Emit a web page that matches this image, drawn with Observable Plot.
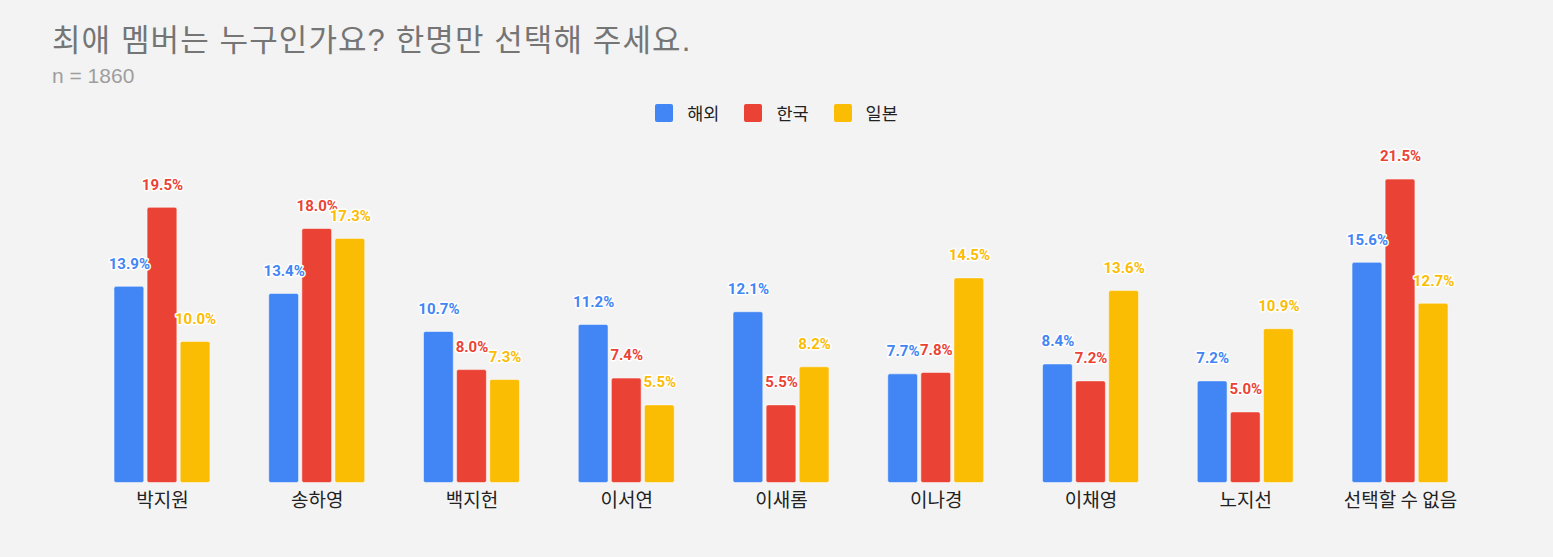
<!DOCTYPE html>
<html>
<head>
<meta charset="utf-8">
<script src="https://cdn.jsdelivr.net/npm/d3@7"></script>
<script src="https://cdn.jsdelivr.net/npm/@observablehq/plot@0.6"></script>
<style>
  html, body { margin: 0; padding: 0; background: #f3f3f3; width: 1553px; height: 557px; overflow: hidden; }
  body { font-family: Roboto, "Noto Sans CJK KR", sans-serif; position: relative; }
  #title { position: absolute; left: 52px; top: 25px; font-size: 31px; letter-spacing: 1.1px; color: #757575; font-family: "Liberation Sans", "Noto Sans CJK KR", sans-serif; line-height: 1; white-space: nowrap; }
  #subtitle { position: absolute; left: 52px; top: 65px; font-size: 21px; color: #9e9e9e; line-height: 1; font-family: "Liberation Sans", sans-serif; }
  #legend { position: absolute; left: 0; width: 1553px; top: 100px; display: flex; justify-content: center; font-size: 17.5px; color: #222; font-family: "Noto Sans CJK KR", sans-serif; }
  .item { display: flex; align-items: center; margin: 0 12.5px; }
  .sw { width: 18px; height: 18px; border-radius: 2px; margin-right: 14px; }
  #chart { position: absolute; left: 0; top: 140px; }
</style>
</head>
<body>
<div id="title">최애 멤버는 누구인가요? 한명만 선택해 주세요.</div>
<div id="subtitle">n = 1860</div>
<div id="legend"></div>
<div id="chart"></div>
<script>
const categories = ["박지원", "송하영", "백지헌", "이서연", "이새롬", "이나경", "이채영", "노지선", "선택할 수 없음"];
const seriesNames = ["해외", "한국", "일본"];
const colors = ["#4285f4", "#ea4335", "#fbbc04"];
const overseas = [13.9, 13.4, 10.7, 11.2, 12.1, 7.7, 8.4, 7.2, 15.6];
const korea = [19.5, 18.0, 8.0, 7.4, 5.5, 7.8, 7.2, 5.0, 21.5];
const japan = [10.0, 17.3, 7.3, 5.5, 8.2, 14.5, 13.6, 10.9, 12.7];

const seriesValues = [overseas, korea, japan];
const data = [];
categories.forEach((c, i) => {
  seriesNames.forEach((s, j) => data.push({category: c, series: s, value: seriesValues[j][i]}));
});

const legend = document.getElementById("legend");
seriesNames.forEach((s, j) => {
  const it = document.createElement("div");
  it.className = "item";
  it.innerHTML = `<div class="sw" style="background:${colors[j]}"></div><span>${s}</span>`;
  legend.appendChild(it);
});

const chart = Plot.plot({
  width: 1553,
  height: 417,
  marginLeft: 84.6,
  marginRight: 75.6,
  marginTop: 25,
  marginBottom: 74.5,
  style: {background: "transparent", fontFamily: "Roboto, 'Noto Sans CJK KR', sans-serif"},
  fx: {domain: categories, paddingInner: 0.38, paddingOuter: 0.19, round: false, label: null},
  x: {domain: seriesNames, paddingInner: 0.1, paddingOuter: 0, round: false, axis: null},
  y: {domain: [0, 22.5], axis: null},
  color: {domain: seriesNames, range: colors},
  marks: [
    Plot.barY(data, {fx: "category", x: "series", y: "value", fill: "series", rx: 2, stroke: "#ffffff", strokeOpacity: 0.5, strokeWidth: 1}),
    Plot.text(data, {fx: "category", x: "series", y: "value", text: d => d.value.toFixed(1) + "%", fill: "series", dy: -23, fontSize: 15, fontWeight: "bold", stroke: "#ffffff", strokeWidth: 3, lineAnchor: "middle"}),
    Plot.axisFx({anchor: "bottom", tickSize: 0, tickPadding: 10, fontSize: 19, color: "#222", label: null, fontFamily: "'Noto Sans CJK KR', sans-serif"})
  ]
});
document.getElementById("chart").appendChild(chart);
</script>
</body>
</html>
